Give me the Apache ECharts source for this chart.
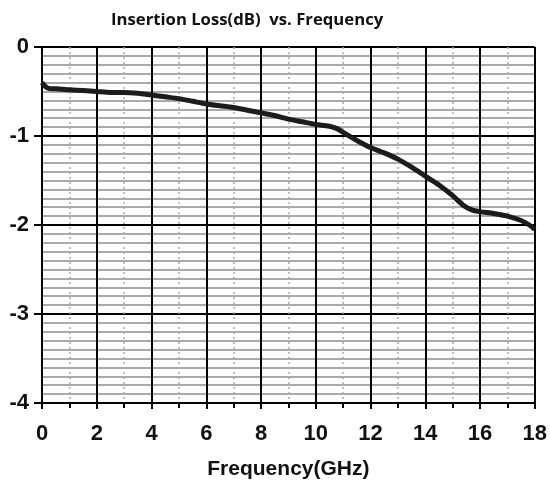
<!DOCTYPE html>
<html>
<head>
<meta charset="utf-8">
<script src="https://cdn.jsdelivr.net/npm/echarts@6/dist/echarts.min.js"></script>
<style>html,body{margin:0;padding:0;background:#fff}#c{width:550px;height:485px}</style>
</head>
<body>
<div id="c"></div>
<script>
const chartTitle = 'Insertion Loss(dB)  vs. Frequency';
const xName = 'Frequency(GHz)';
const freqGHz = [0, 0.2, 0.5, 1, 1.5, 2, 2.5, 3, 3.5, 4, 4.5, 5, 5.5, 6, 6.5, 7, 7.5, 8, 8.5, 9, 9.5, 10, 10.5, 10.8, 11, 11.5, 12, 12.5, 13, 13.5, 14, 14.5, 15, 15.4, 15.7, 16, 16.5, 17, 17.5, 17.8, 18];
const lossDB = [-0.40, -0.46, -0.47, -0.48, -0.49, -0.50, -0.51, -0.51, -0.52, -0.54, -0.56, -0.58, -0.61, -0.64, -0.66, -0.68, -0.71, -0.74, -0.77, -0.81, -0.84, -0.87, -0.89, -0.92, -0.96, -1.05, -1.13, -1.19, -1.26, -1.35, -1.45, -1.55, -1.67, -1.78, -1.83, -1.85, -1.87, -1.90, -1.95, -2.00, -2.05];

const chart = echarts.init(document.getElementById('c'));
chart.setOption({
  animation: false,
  backgroundColor: '#fff',
  title: {
    text: chartTitle,
    left: 106, top: 7,
    textStyle: {fontFamily: 'Open Sans', fontWeight: 700, fontSize: 16.7, color: '#111'}
  },
  grid: {left: 42, right: 13, top: 47, bottom: 78},
  xAxis: {
    type: 'value', min: 0, max: 18, interval: 2,
    name: xName, nameLocation: 'middle', nameGap: 56,
    nameTextStyle: {fontFamily: 'Liberation Sans', fontWeight: 'bold', fontSize: 21, color: '#111'},
    axisLine: {show: true, onZero: false, lineStyle: {color: '#000', width: 2}},
    axisTick: {show: true, length: 6, lineStyle: {color: '#000', width: 2}},
    minorTick: {show: true, splitNumber: 2, length: 5, lineStyle: {color: '#000', width: 2}},
    axisLabel: {margin: 20, fontFamily: 'Liberation Sans', fontWeight: 'bold', fontSize: 22, color: '#111'},
    splitLine: {show: true, lineStyle: {color: '#000', width: 2}},
    minorSplitLine: {show: true, lineStyle: {color: '#aaa', width: 1.5, type: [2, 3]}}
  },
  yAxis: {
    type: 'value', min: -4, max: 0, interval: 1,
    axisLine: {show: true, onZero: false, lineStyle: {color: '#000', width: 2}},
    axisTick: {show: true, length: 8, lineStyle: {color: '#000', width: 2}},
    minorTick: {show: false, splitNumber: 10},
    axisLabel: {margin: 13, fontFamily: 'Liberation Sans', fontWeight: 'bold', fontSize: 22, color: '#111'},
    splitLine: {show: true, lineStyle: {color: '#000', width: 2}},
    minorSplitLine: {show: true, lineStyle: {color: '#aaa', width: 2}}
  },
  series: [{
    type: 'line',
    data: freqGHz.map((f, i) => [f, lossDB[i]]),
    showSymbol: false,
    symbol: 'none',
    smooth: 0.3,
    lineStyle: {color: '#1c1c1c', width: 5},
    z: 5
  }]
});
</script>
</body>
</html>
